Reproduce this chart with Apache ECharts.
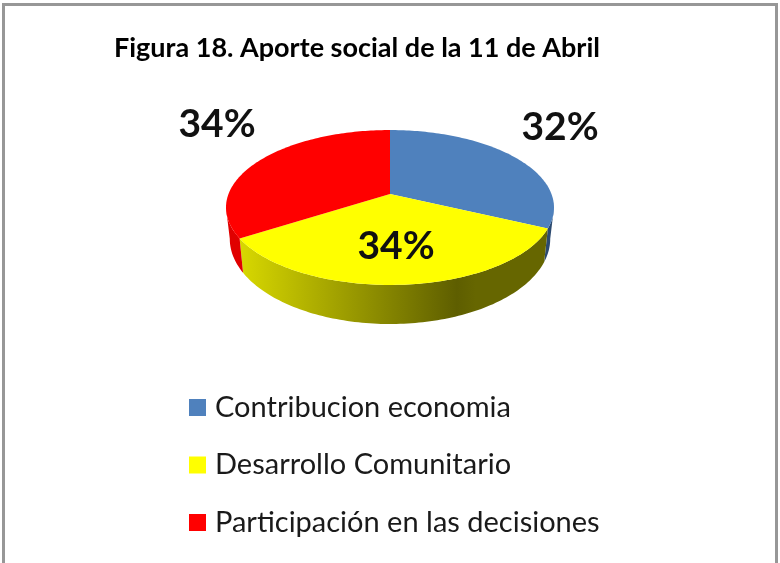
<!DOCTYPE html>
<html>
<head>
<meta charset="utf-8">
<style>html,body{margin:0;padding:0;background:#fff}#c{width:780px;height:563px}</style>
<script src="https://cdn.jsdelivr.net/npm/echarts@6/dist/echarts.min.js"></script>
</head>
<body>
<div id="c"></div>
<script>
const titleText = 'Figura 18. Aporte social de la 11 de Abril';
const categories = ['Contribucion economia', 'Desarrollo Comunitario', 'Participación en las decisiones'];
const shares = [32, 34, 34];

const colors = ['#4f81bd', '#ffff00', '#ff0000'];
const wallStops = [
  [[0, '#2c4a70'], [1, '#2c4a70']],
  [[0, '#d8d800'], [0.70, '#5e5e00'], [0.76, '#666600'], [1, '#666600']],
  [[0, '#e00000'], [1, '#d00000']]
];
const labelAnchors = [[560, 127], [396, 246], [217, 124]];

const apexX = 390, apexY = 194;
const persp = 0.174, radX = 161.5, radY = 75.1;
const total = shares.reduce((a, b) => a + b, 0);

function project(theta) {
  const u = Math.sin(theta), v = Math.cos(theta), d = 1 + persp * v;
  return [apexX + radX * u / d, apexY - radY * v / d];
}
function lower(p) {
  return [apexX + (p[0] - apexX) * 0.977, p[1] + 30 + 0.1 * (p[1] - apexY)];
}
function arcPoints(a0, a1) {
  const n = Math.max(2, Math.ceil(Math.abs(a1 - a0) / 0.02));
  const pts = [];
  for (let i = 0; i <= n; i++) pts.push(project(a0 + (a1 - a0) * i / n));
  return pts;
}
function sliceRange(index) {
  let before = 0;
  for (let i = 0; i < index; i++) before += shares[i];
  return [before / total * 2 * Math.PI, (before + shares[index]) / total * 2 * Math.PI];
}
// The rim is visible as a wall only where it faces the viewer.
const silhouette = Math.acos(-persp);

function renderSlice(params, api) {
  const idx = params.seriesIndex;
  const [a0, a1] = sliceRange(idx);
  const children = [];
  const w0 = Math.max(a0, silhouette), w1 = Math.min(a1, 2 * Math.PI - silhouette);
  if (w1 > w0) {
    const rim = arcPoints(w0, w1);
    const wall = rim.concat(rim.slice().reverse().map(lower));
    children.push({
      type: 'polygon',
      shape: { points: wall },
      style: {
        fill: {
          type: 'linear', global: true,
          x: 240, y: 0, x2: 550, y2: 0,
          colorStops: wallStops[idx].map(s => ({ offset: s[0], color: s[1] }))
        }
      }
    });
  }
  children.push({
    type: 'polygon',
    shape: { points: [[apexX, apexY]].concat(arcPoints(a0, a1)) },
    style: { fill: api.visual('color') }
  });
  children.push({
    type: 'text',
    z2: 10,
    style: {
      x: labelAnchors[idx][0], y: labelAnchors[idx][1],
      text: api.value(0) + '%',
      fill: '#111',
      font: 'bold 39px Lato',
      align: 'center', verticalAlign: 'middle'
    }
  });
  return { type: 'group', children };
}

const chart = echarts.init(document.getElementById('c'), null, { renderer: 'canvas' });
chart.setOption({
  animation: false,
  backgroundColor: '#fff',
  title: {
    text: titleText,
    left: 114, top: 35, padding: 0,
    textStyle: { fontFamily: 'Lato', fontWeight: 'bold', fontSize: 27, color: '#000' }
  },
  legend: {
    orient: 'vertical',
    left: 189, top: 393, padding: 0,
    icon: 'rect',
    itemWidth: 17, itemHeight: 17, itemGap: 28.5,
    selectedMode: false,
    textStyle: { fontFamily: 'Lato', fontSize: 29, color: '#1a1a1a', padding: [0, 0, 0, 4] },
    data: categories
  },
  graphic: [{
    type: 'rect', silent: true, z: -1,
    shape: { x: 3.5, y: 4.5, width: 773, height: 620 },
    style: { fill: '#fff', stroke: '#979797', lineWidth: 3 }
  }],
  series: categories.map((name, i) => ({
    type: 'custom',
    name,
    coordinateSystem: 'none',
    itemStyle: { color: colors[i] },
    renderItem: renderSlice,
    data: [[shares[i]]]
  }))
});
</script>
</body>
</html>
